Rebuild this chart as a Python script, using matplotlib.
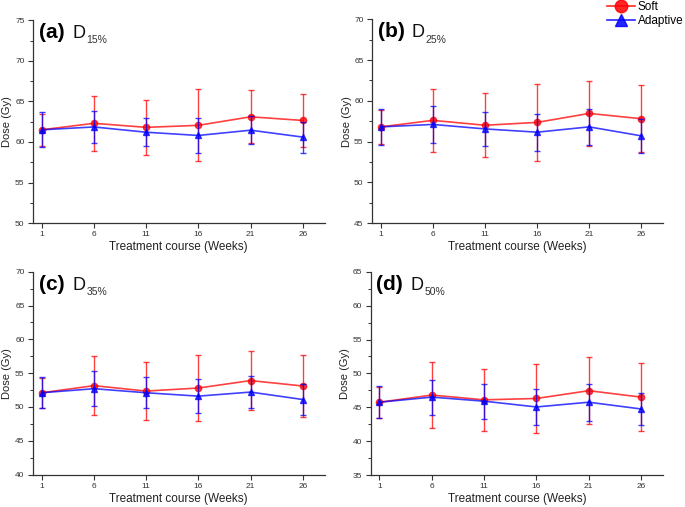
import numpy as np
import matplotlib
matplotlib.use('Agg')
import matplotlib.pyplot as plt
from matplotlib.ticker import MultipleLocator
from matplotlib.lines import Line2D

plt.rcParams['font.family'] = ['Liberation Sans', 'DejaVu Sans']

weeks = [1, 6, 11, 16, 21, 26]

# D15%
soft_a = [61.5, 62.3, 61.8, 62.05, 63.1, 62.65]
soft_a_err = [2.0, 3.4, 3.35, 4.45, 3.25, 3.25]
adap_a = [61.5, 61.85, 61.2, 60.8, 61.45, 60.6]
adap_a_err = [2.15, 2.0, 1.75, 2.1, 1.7, 1.9]

# D25%
soft_b = [56.8, 57.6, 57.0, 57.35, 58.45, 57.8]
soft_b_err = [2.1, 3.9, 3.9, 4.75, 3.95, 4.1]
adap_b = [56.8, 57.1, 56.55, 56.15, 56.8, 55.7]
adap_b_err = [2.25, 2.3, 2.05, 2.25, 2.2, 2.1]

# D35%
soft_c = [52.1, 53.15, 52.35, 52.8, 53.9, 53.1]
soft_c_err = [2.2, 4.35, 4.3, 4.9, 4.4, 4.6]
adap_c = [52.1, 52.7, 52.1, 51.6, 52.2, 51.1]
adap_c_err = [2.3, 2.55, 2.3, 2.55, 2.35, 2.3]

# D50%
soft_d = [45.75, 46.8, 46.1, 46.3, 47.45, 46.5]
soft_d_err = [2.3, 4.85, 4.55, 5.05, 4.9, 5.0]
adap_d = [45.75, 46.5, 45.9, 45.05, 45.75, 44.75]
adap_d_err = [2.4, 2.6, 2.6, 2.6, 2.7, 2.35]

panels = [
    ('(a)', '15%', soft_a, soft_a_err, adap_a, adap_a_err, (50, 75)),
    ('(b)', '25%', soft_b, soft_b_err, adap_b, adap_b_err, (45, 70)),
    ('(c)', '35%', soft_c, soft_c_err, adap_c, adap_c_err, (40, 70)),
    ('(d)', '50%', soft_d, soft_d_err, adap_d, adap_d_err, (35, 65)),
]

rects = [
    [0.048, 0.560, 0.426, 0.400],
    [0.543, 0.560, 0.425, 0.402],
    [0.048, 0.064, 0.426, 0.400],
    [0.541, 0.063, 0.427, 0.401],
]

red = '#ff0000'
blue = '#0000ff'

fig = plt.figure(figsize=(6.85, 5.07), dpi=100)

for rect, (lab, sub, s, se, a, ae, ylim) in zip(rects, panels):
    ax = fig.add_axes(rect)
    ax.errorbar(weeks, s, yerr=se, color=red, marker='o', ms=4.5, lw=1.2,
                elinewidth=1.0, capsize=2.5, capthick=1.0, alpha=0.75, zorder=2)
    ax.errorbar(weeks, a, yerr=ae, color=blue, marker='^', ms=5, lw=1.2,
                elinewidth=1.0, capsize=2.5, capthick=1.0, alpha=0.75, zorder=3)
    ax.set_xlim(0.15, 28.1)
    ax.set_ylim(*ylim)
    ax.set_xticks(weeks)
    ax.yaxis.set_major_locator(MultipleLocator(5))
    ax.yaxis.set_minor_locator(MultipleLocator(2.5))
    for sp in ['top', 'right']:
        ax.spines[sp].set_visible(False)
    for sp in ['left', 'bottom']:
        ax.spines[sp].set_color('#333333')
        ax.spines[sp].set_linewidth(0.9)
    ax.tick_params(which='major', direction='out', length=3.5, width=0.8,
                   labelsize=6, colors='#333333', pad=2.5)
    ax.tick_params(which='minor', direction='out', length=2, width=0.7, colors='#333333')
    ax.set_ylabel('Dose (Gy)', fontsize=8, color='#222222')
    ax.yaxis.set_label_coords(-0.07, 0.5)
    ax.set_xlabel('Treatment course (Weeks)', fontsize=8.5, color='#222222')
    ax.xaxis.set_label_coords(0.5, -0.09)
    ax.text(0.02, 0.985, lab, transform=ax.transAxes, fontsize=15,
            fontweight='bold', va='top', ha='left')
    ax.text(0.135, 0.975, 'D', transform=ax.transAxes, fontsize=13,
            va='top', ha='left', color='#111111')
    ax.text(0.183, 0.925, sub, transform=ax.transAxes, fontsize=7.5,
            va='top', ha='left', color='#333333')

handles = [
    Line2D([], [], color=red, marker='o', ms=9, lw=1.2, alpha=0.85),
    Line2D([], [], color=blue, marker='^', ms=9, lw=1.2, alpha=0.85),
]
fig.legend(handles, ['Soft', 'Adaptive'], loc='upper right',
           bbox_to_anchor=(1.008, 1.012), frameon=False, fontsize=8.5,
           handlelength=2.4, handletextpad=0.2, labelspacing=0.2, borderaxespad=0.2)

fig.savefig('out.png', dpi=100)
